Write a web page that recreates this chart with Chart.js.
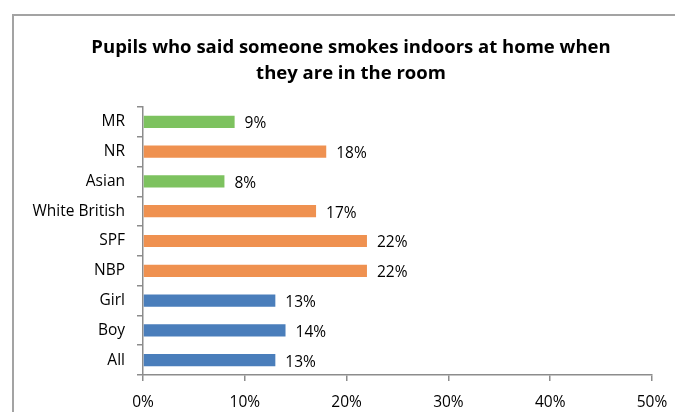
<!DOCTYPE html>
<html>
<head>
<meta charset="utf-8">
<script src="https://cdn.jsdelivr.net/npm/chart.js@4.4.1/dist/chart.umd.min.js"></script>
<style>
  html, body { margin: 0; padding: 0; background: #fff; overflow: hidden; }
  body { width: 675px; height: 412px; position: relative; }
  #frame { position: absolute; left: 12px; top: 14px; width: 720px; height: 500px; border: 2px solid #a3a3a3; box-sizing: border-box; }
  #wrap { position: absolute; left: 13px; top: 17px; width: 676px; height: 395px; }
</style>
</head>
<body>
<div id="frame"></div>
<div id="wrap"><canvas id="smokeChart"></canvas></div>
<script>
// categories, top to bottom
const categories = ['MR', 'NR', 'Asian', 'White British', 'SPF', 'NBP', 'Girl', 'Boy', 'All'];
const values = [9, 18, 8, 17, 22, 22, 13, 14, 13];
const groups = ['ethnic', 'other', 'ethnic', 'other', 'other', 'other', 'sex', 'sex', 'sex'];
const xTicks = [0, 10, 20, 30, 40, 50];
const titleLines = ['Pupils who said someone smokes indoors at home when', 'they are in the room'];

const groupColors = { ethnic: '#7dc25f', other: '#ef9150', sex: '#4a7ebb' };
const FONT = "'Open Sans', 'Liberation Sans', sans-serif";

// title centred on the whole framed box (wider than the plot area)
const boxTitle = {
    id: 'boxTitle',
    afterDraw(chart) {
        const ctx = chart.ctx;
        ctx.save();
        ctx.font = 'bold 18.5px ' + FONT;
        ctx.fillStyle = '#000';
        ctx.textAlign = 'center';
        ctx.textBaseline = 'middle';
        titleLines.forEach((line, i) => {
            ctx.fillText(line, chart.width / 2, 31 + i * 26);
        });
        ctx.restore();
    }
};

// value labels at the end of each bar
const barLabels = {
    id: 'barLabels',
    afterDatasetsDraw(chart) {
        const ctx = chart.ctx;
        const meta = chart.getDatasetMeta(0);
        ctx.save();
        ctx.font = '15.5px ' + FONT;
        ctx.fillStyle = '#000';
        ctx.textBaseline = 'middle';
        ctx.textAlign = 'left';
        meta.data.forEach((bar, i) => {
            ctx.fillText(values[i] + '%', bar.x + 10, bar.y + 2);
        });
        ctx.restore();
    }
};

const smokeChart = new Chart(document.getElementById('smokeChart'), {
    type: 'bar',
    data: {
        labels: categories,
        datasets: [{
            data: values,
            backgroundColor: groups.map(g => groupColors[g]),
            borderWidth: 0,
            categoryPercentage: 1,
            barPercentage: 0.41
        }]
    },
    plugins: [barLabels, boxTitle],
    options: {
        indexAxis: 'y',
        responsive: true,
        maintainAspectRatio: false,
        animation: false,
        layout: { padding: { left: 0, right: 37, top: 90, bottom: 0 } },
        plugins: {
            legend: { display: false },
            tooltip: { enabled: false },
            title: { display: false }
        },
        scales: {
            x: {
                min: 0,
                max: 50,
                afterBuildTicks: (scale) => { scale.ticks = xTicks.map(v => ({ value: v })); },
                afterFit: (scale) => { scale.height = 37; },
                ticks: {
                    color: '#000',
                    font: { family: FONT, size: 15.5 },
                    padding: 12,
                    callback: (v) => v + '%'
                },
                grid: { drawOnChartArea: false, tickLength: 6, color: '#8c8c8c', lineWidth: 1.5 },
                border: { color: '#8c8c8c', width: 1.5 }
            },
            y: {
                afterFit: (scale) => { scale.width = 130; },
                ticks: {
                    color: '#000',
                    font: { family: FONT, size: 15.5 },
                    padding: 12
                },
                grid: { drawOnChartArea: false, tickLength: 6, color: '#8c8c8c', lineWidth: 1.5, offset: true },
                border: { color: '#8c8c8c', width: 1.5 }
            }
        }
    }
});
</script>
</body>
</html>
